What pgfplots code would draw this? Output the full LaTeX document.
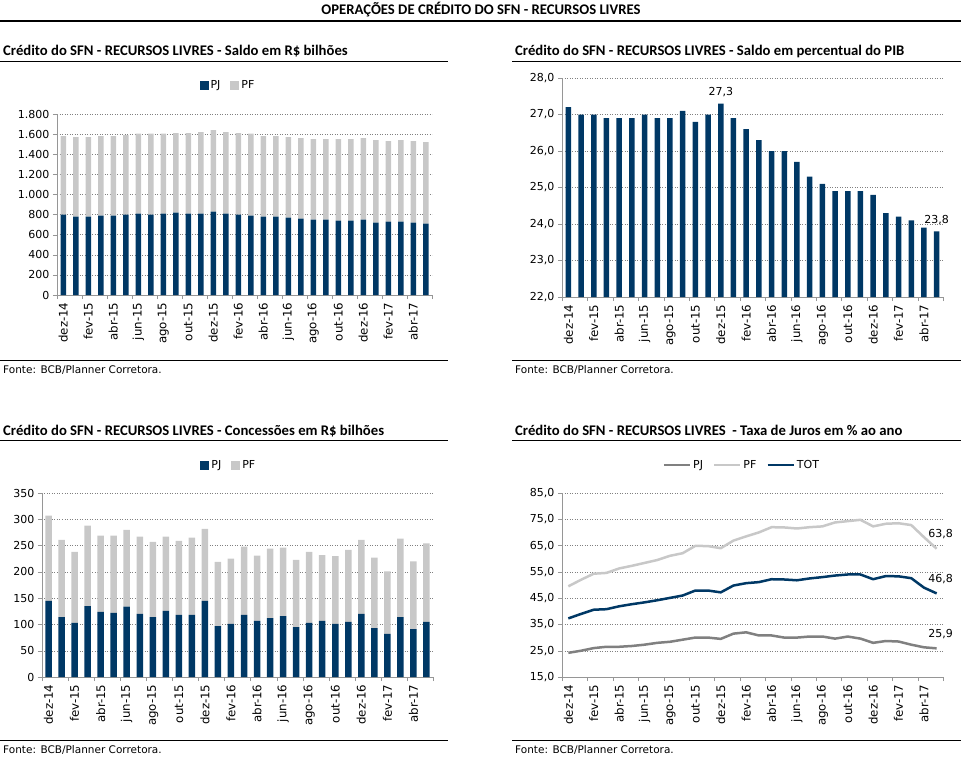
\documentclass[border=0pt]{standalone}
\usepackage{pgfplots}
\pgfplotsset{compat=1.18}
\usepackage{pgfplotstable}
\usepackage{fontspec}
\setmainfont{DejaVu Sans}
\newfontfamily\titlefont{Carlito}
\definecolor{navy}{RGB}{0,56,101}
\definecolor{lgray}{RGB}{200,200,200}
\definecolor{mgray}{RGB}{128,128,128}
\definecolor{axgray}{RGB}{150,150,150}
\newcommand{\ticksize}{\fontsize{11bp}{13bp}\selectfont}
\newcommand{\xticksize}{\fontsize{11.8bp}{13bp}\selectfont}
\newcommand{\fontesize}{\fontsize{10.5bp}{12bp}\selectfont}
\newcommand{\ptitle}{\titlefont\bfseries\fontsize{14.7bp}{16bp}\selectfont}

\pgfplotstableread{
i pjs pfs pib pjc pfc rpj rpf rtot
0 800 780 27.2 145 162 24.2 49.5 37.3
1 780 790 27.0 114 147 25.0 52.0 39.0
2 780 790 27.0 103 135 26.0 54.3 40.6
3 790 790 26.9 135 153 26.5 54.6 40.8
4 790 790 26.9 124 145 26.5 56.3 41.9
5 800 790 26.9 122 147 26.8 57.3 42.7
6 810 795 27.0 134 146 27.3 58.4 43.4
7 800 805 26.9 120 147 28.0 59.5 44.2
8 810 795 26.9 114 143 28.4 61.1 45.1
9 820 790 27.1 126 141 29.2 62.1 46.0
10 810 800 26.8 118 141 30.0 64.9 47.9
11 810 810 27.0 118 147 30.0 64.8 47.9
12 830 810 27.3 145 137 29.5 64.0 47.2
13 810 810 26.9 97 122 31.5 66.9 49.8
14 800 810 26.6 101 124 32.0 68.5 50.7
15 790 815 26.3 118 130 30.8 70.0 51.1
16 780 800 26.0 107 124 30.8 72.0 52.2
17 780 800 26.0 112 132 30.0 71.9 52.1
18 770 800 25.7 116 130 30.0 71.5 51.8
19 760 800 25.3 95 128 30.4 72.0 52.5
20 750 800 25.1 103 135 30.4 72.3 53.0
21 750 800 24.9 107 125 29.6 73.8 53.6
22 740 810 24.9 101 129 30.4 74.3 54.0
23 740 810 24.9 105 137 29.6 74.8 54.0
24 750 810 24.8 120 141 28.0 72.3 52.2
25 720 820 24.3 93 134 28.7 73.3 53.4
26 730 800 24.2 82 119 28.5 73.5 53.3
27 730 810 24.1 114 149 27.3 72.8 52.6
28 720 810 23.9 91 129 26.3 68.2 49.0
29 710 810 23.8 105 149 25.9 63.8 46.8
}\datatable

\pgfplotsset{
 panel/.style={
  scale only axis,
  clip mode=individual,
  axis lines*=left,
  axis line style={-,draw=axgray},
  tick pos=left,
  tick align=outside,
  xmin=-0.5, xmax=29.5,
  xtick={0,2,...,28},
  xticklabels={dez-14,fev-15,abr-15,jun-15,ago-15,out-15,dez-15,fev-16,abr-16,jun-16,ago-16,out-16,dez-16,fev-17,abr-17},
  minor xtick={-0.5,1.5,...,29.5},
  major x tick style={draw=none},
  minor x tick style={draw=axgray},
  major y tick style={draw=axgray},
  major tick length=4bp, minor tick length=4bp,
  x tick label style={rotate=90,anchor=east,font=\xticksize},
  y tick label style={font=\ticksize},
  ymajorgrids,
  major grid style={draw=gray, dash pattern=on 1bp off 1.5bp},
  /pgf/number format/assume math mode=true,
  /pgf/number format/use comma,
  legend style={draw=none, fill=none, legend columns=-1, font=\ticksize,
    /tikz/every even column/.append style={column sep=8bp}},
 },
 sq/.style={legend image code/.code={\fill[##1] (0bp,-4.5bp) rectangle (9bp,4.5bp);}},
 ln/.style={legend image code/.code={\draw[##1] (0bp,0bp) -- (26bp,0bp);}},
}

\begin{document}
\begin{tikzpicture}
\path[use as bounding box] (0,0) rectangle (961bp,-761bp);
% header
\node[font=\ptitle] at (481bp,-10bp) {OPERAÇÕES DE CRÉDITO DO SFN - RECURSOS LIVRES};
\draw[line width=1.5bp] (0bp,-21bp) -- (961bp,-21bp);
% panel titles
\node[anchor=base west,inner sep=0pt,font=\ptitle] at (3bp,-55bp) {Crédito do SFN - RECURSOS LIVRES - Saldo em R\$ bilhões};
\node[anchor=base west,inner sep=0pt,font=\ptitle] at (515bp,-55bp) {Crédito do SFN - RECURSOS LIVRES - Saldo em percentual do PIB};
\node[anchor=base west,inner sep=0pt,font=\ptitle] at (3bp,-435bp) {Crédito do SFN - RECURSOS LIVRES - Concessões em R\$ bilhões};
\node[anchor=base west,inner sep=0pt,font=\ptitle] at (515bp,-435bp) {Crédito do SFN - RECURSOS LIVRES \ - Taxa de Juros em \% ao ano};
\foreach \yy in {61,360,440,740}{
  \draw[line width=1bp] (0bp,-\yy bp) -- (448bp,-\yy bp);
  \draw[line width=1bp] (512bp,-\yy bp) -- (961bp,-\yy bp);
}
\foreach \yy in {370,750}{
  \node[anchor=west,inner sep=0pt,font=\fontesize] at (3bp,-\yy bp) {Fonte: BCB/Planner Corretora.};
  \node[anchor=west,inner sep=0pt,font=\fontesize] at (515bp,-\yy bp) {Fonte: BCB/Planner Corretora.};
}

% top-left
\begin{axis}[panel, at={(57bp,-295bp)}, anchor=south west,
  width=375bp, height=181bp,
  ymin=0, ymax=1800, ytick={0,200,...,1800},
  ybar stacked, bar width=5.5bp,
  legend style={at={(0.456,1)}, anchor=center, yshift=29bp}]
\addplot[sq, fill=navy, draw=none] table[x=i,y=pjs]{\datatable};
\addplot[sq, fill=lgray, draw=none] table[x=i,y=pfs]{\datatable};
\legend{PJ,PF}
\end{axis}

% top-right
\begin{axis}[panel, at={(562bp,-297bp)}, anchor=south west,
  width=381bp, height=219bp,
  ymin=22, ymax=28, ytick={22,23,...,28},
  yticklabel style={/pgf/number format/.cd,fixed,fixed zerofill,precision=1},
  ybar, bar width=5.5bp]
\addplot[fill=navy, draw=none] table[x=i,y=pib]{\datatable};
\node[font=\ticksize, above, yshift=3bp] at (axis cs:12,27.3) {27,3};
\node[font=\ticksize, above, yshift=3bp] at (axis cs:29,23.8) {23,8};
\end{axis}

% bottom-left
\begin{axis}[panel, at={(42bp,-677bp)}, anchor=south west,
  width=391bp, height=184bp,
  ymin=0, ymax=350, ytick={0,50,...,350},
  ybar stacked, bar width=6.5bp,
  legend style={at={(0.478,1)}, anchor=center, yshift=28bp}]
\addplot[sq, fill=navy, draw=none] table[x=i,y=pjc]{\datatable};
\addplot[sq, fill=lgray, draw=none] table[x=i,y=pfc]{\datatable};
\legend{PJ,PF}
\end{axis}

% bottom-right
\begin{axis}[panel, at={(562bp,-677bp)}, anchor=south west,
  width=381bp, height=184bp,
  ymin=15, ymax=85, ytick={15,25,...,85},
  yticklabel style={/pgf/number format/.cd,fixed,fixed zerofill,precision=1},
  legend style={at={(0.472,1)}, anchor=center, yshift=28bp}]
\addplot[ln, mgray, line width=2.5bp, line join=round, no markers] table[x=i,y=rpj]{\datatable};
\addplot[ln, lgray, line width=2.5bp, line join=round, no markers] table[x=i,y=rpf]{\datatable};
\addplot[ln, navy, line width=2.5bp, line join=round, no markers] table[x=i,y=rtot]{\datatable};
\legend{PJ,PF,TOT}
\node[font=\ticksize, above, xshift=4bp, yshift=6bp] at (axis cs:29,63.8) {63,8};
\node[font=\ticksize, above, xshift=4bp, yshift=6bp] at (axis cs:29,46.8) {46,8};
\node[font=\ticksize, above, xshift=4bp, yshift=6bp] at (axis cs:29,25.9) {25,9};
\end{axis}
\end{tikzpicture}
\end{document}
